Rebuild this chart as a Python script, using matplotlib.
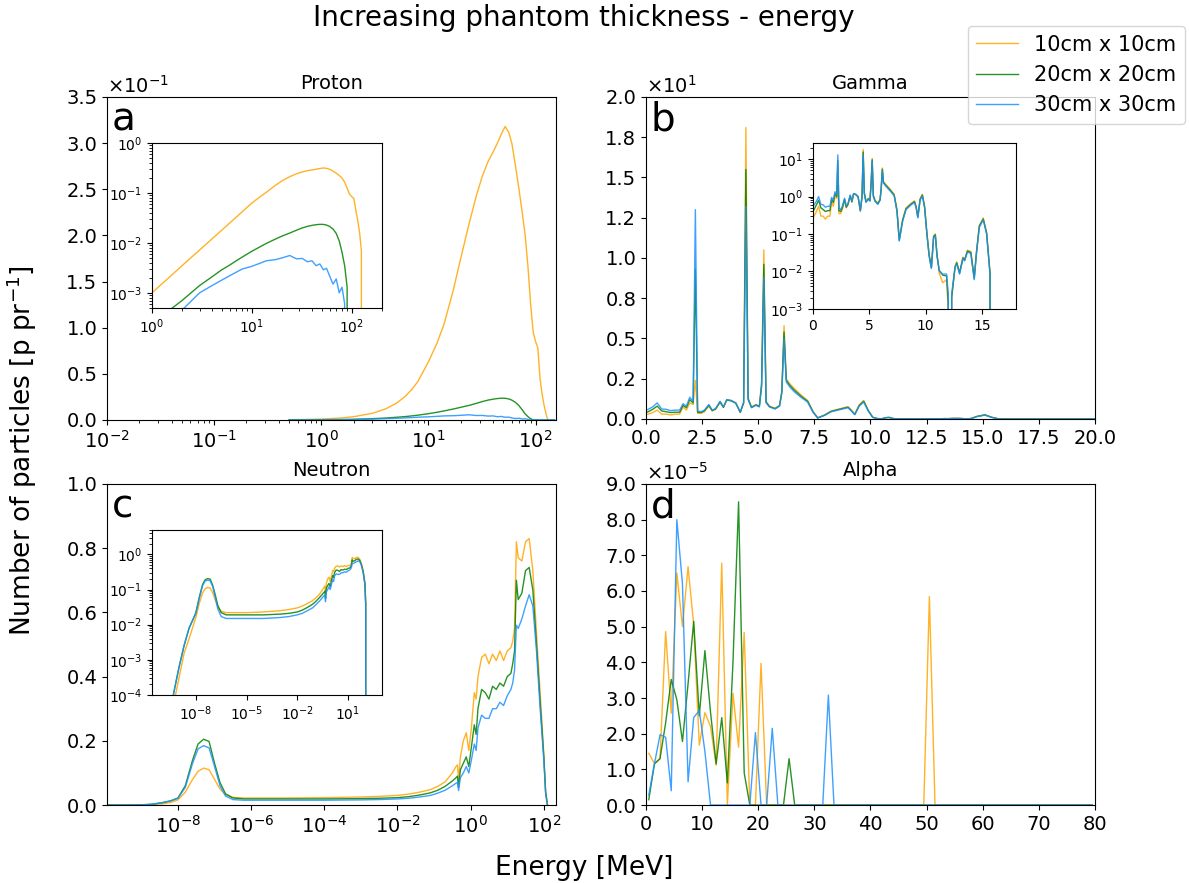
import numpy as np
import matplotlib
matplotlib.use("Agg")
import matplotlib.pyplot as plt
from matplotlib.ticker import ScalarFormatter, LogLocator, MultipleLocator, NullLocator

# ---------------- data ----------------
labels = ["10cm x 10cm", "20cm x 20cm", "30cm x 30cm"]
colors = ["orange", "green", "dodgerblue"]

# Proton (energy in MeV)
proton_E = [0.5, 0.7, 1, 1.5, 2, 3, 4, 5, 6, 7, 8, 10, 12, 14, 17, 20, 24, 28, 32, 36, 40,
            44, 48, 52, 56, 60, 65, 70, 75, 80, 85, 90, 95, 100, 105, 110, 115, 120, 125,
            130, 140, 150]
proton_10 = [2.9e-4, 5.3e-4, 1.0e-3, 2.07e-3, 3.5e-3, 7.2e-3, 0.0121, 0.018, 0.025, 0.033,
             0.042, 0.063, 0.083, 0.104, 0.14, 0.175, 0.213, 0.243, 0.265, 0.28, 0.29, 0.30,
             0.31, 0.318, 0.312, 0.30, 0.275, 0.25, 0.225, 0.20, 0.165, 0.125, 0.095, 0.085,
             0.078, 0.045, 0.028, 0.016, 0.007, 0.0, 0.0, 0.0]
proton_20 = [5e-5, 1e-4, 2e-4, 4.5e-4, 7e-4, 1.4e-3, 2.1e-3, 2.9e-3, 3.6e-3, 4.4e-3, 5.2e-3,
             6.8e-3, 8.3e-3, 9.8e-3, 0.0118, 0.0137, 0.0158, 0.018, 0.020, 0.0215, 0.0225,
             0.0232, 0.0236, 0.0235, 0.0228, 0.0215, 0.019, 0.0155, 0.011, 0.0065, 0.0035,
             0.0013, 0.0, 0.0, 0.0, 0.0, 0.0, 0.0, 0.0, 0.0, 0.0, 0.0]
proton_30 = [2e-5, 5e-5, 1.2e-4, 2.8e-4, 4.5e-4, 1.0e-3, 1.4e-3, 1.8e-3, 2.2e-3, 2.6e-3,
             3.0e-3, 3.4e-3, 3.9e-3, 4.4e-3, 4.6e-3, 5.0e-3, 5.6e-3, 4.8e-3, 4.9e-3, 4.2e-3,
             4.4e-3, 3.5e-3, 3.8e-3, 2.9e-3, 3.1e-3, 2.2e-3, 1.5e-3, 1.9e-3, 1.0e-3, 1.3e-3,
             6e-4, 0.0, 0.0, 0.0, 0.0, 0.0, 0.0, 0.0, 0.0, 0.0, 0.0, 0.0]

# Gamma (energy in MeV)
gamma_E = [0.0, 0.1, 0.3, 0.5, 0.7, 0.9, 1.1, 1.3, 1.5, 1.65, 1.8, 1.95, 2.1, 2.2, 2.3, 2.45,
           2.6, 2.8, 2.95, 3.1, 3.3, 3.45, 3.6, 3.8, 4.0, 4.2, 4.35, 4.45, 4.55, 4.7, 4.9,
           5.05, 5.15, 5.25, 5.35, 5.5, 5.75, 5.95, 6.05, 6.15, 6.25, 6.4, 6.6, 6.9, 7.2,
           7.45, 7.65, 7.95, 8.25, 8.7, 9.0, 9.15, 9.3, 9.5, 9.7, 9.9, 10.1, 10.3, 10.5,
           10.7, 10.85, 11.0, 11.2, 11.5, 11.85, 12.0, 12.1, 12.3, 12.6, 12.75, 13.0, 13.3,
           13.45, 13.7, 14.0, 14.3, 14.5, 14.75, 15.1, 15.4, 15.7, 15.9, 16.0, 17.0, 18.0,
           19.0, 20.0]
gamma_10 = [0.28, 0.3, 0.4, 0.55, 0.3, 0.3, 0.25, 0.3, 0.3, 0.75, 0.55, 1.0, 0.9, 2.4, 0.35,
            0.35, 0.45, 0.8, 0.5, 0.6, 1.05, 0.72, 1.2, 1.15, 1.0, 0.4, 1.05, 18.1, 1.3, 0.75,
            0.9, 0.8, 2.3, 10.5, 1.1, 0.8, 0.67, 0.85, 1.75, 5.8, 2.5, 2.2, 1.9, 1.5, 1.15,
            0.45, 0.072, 0.25, 0.5, 0.66, 0.77, 0.55, 0.3, 0.88, 1.15, 0.55, 0.11, 0.028,
            0.013, 0.09, 0.1, 0.028, 0.009, 0.005, 0.006, 0.0008, 0.0, 0.002, 0.014, 0.018,
            0.0095, 0.024, 0.021, 0.037, 0.034, 0.007, 0.034, 0.17, 0.27, 0.11, 0.0095, 0.0,
            0.0, 0.0, 0.0, 0.0, 0.0]
gamma_20 = [0.4, 0.45, 0.6, 0.8, 0.5, 0.45, 0.4, 0.42, 0.42, 0.85, 0.7, 1.2, 1.0, 9.3, 0.42,
            0.4, 0.5, 0.85, 0.52, 0.62, 1.05, 0.72, 1.18, 1.12, 0.98, 0.42, 1.0, 15.5, 1.25,
            0.72, 0.87, 0.78, 2.1, 9.6, 1.05, 0.77, 0.64, 0.82, 1.65, 5.4, 2.4, 2.1, 1.8, 1.42,
            1.1, 0.42, 0.068, 0.23, 0.47, 0.63, 0.73, 0.52, 0.28, 0.84, 1.1, 0.52, 0.105,
            0.027, 0.0125, 0.085, 0.095, 0.027, 0.0105, 0.008, 0.0075, 0.0015, 0.0, 0.002,
            0.013, 0.017, 0.009, 0.023, 0.02, 0.035, 0.032, 0.0065, 0.032, 0.16, 0.25, 0.105,
            0.009, 0.0, 0.0, 0.0, 0.0, 0.0, 0.0]
gamma_30 = [0.55, 0.6, 0.75, 1.0, 0.62, 0.6, 0.52, 0.55, 0.55, 0.95, 0.8, 1.35, 1.1, 13.0, 0.5,
            0.45, 0.55, 0.9, 0.55, 0.65, 1.1, 0.75, 1.2, 1.15, 1.0, 0.42, 1.0, 13.2, 1.2, 0.7,
            0.85, 0.75, 2.0, 8.8, 1.0, 0.75, 0.62, 0.8, 1.6, 5.0, 2.3, 2.0, 1.7, 1.35, 1.05,
            0.4, 0.065, 0.22, 0.45, 0.6, 0.7, 0.5, 0.27, 0.8, 1.05, 0.5, 0.1, 0.026, 0.012,
            0.08, 0.09, 0.026, 0.0105, 0.0085, 0.0085, 0.0025, 0.0, 0.0025, 0.013, 0.016,
            0.0085, 0.022, 0.019, 0.033, 0.03, 0.006, 0.03, 0.15, 0.24, 0.1, 0.0085, 0.0,
            0.0, 0.0, 0.0, 0.0, 0.0]

# Neutron (log10 of energy in MeV)
neutron_logE = [-10.0, -9.6, -9.3, -9.0, -8.7, -8.4, -8.2, -8.0, -7.8, -7.6, -7.45, -7.3,
                -7.15, -7.0, -6.85, -6.7, -6.5, -6.2, -6.0, -5.0, -4.0, -3.0, -2.5, -2.0,
                -1.7, -1.4, -1.1, -0.9, -0.7, -0.5, -0.4, -0.36, -0.33, -0.28, -0.2, -0.12,
                -0.05, 0.02, 0.1, 0.15, 0.2, 0.3, 0.4, 0.5, 0.6, 0.7, 0.8, 0.9, 1.0, 1.1,
                1.15, 1.2, 1.25, 1.3, 1.4, 1.5, 1.6, 1.7, 1.8, 1.9, 2.0, 2.05, 2.1]
neutron_10 = [1e-6, 1e-5, 6e-5, 3e-4, 1.5e-3, 4e-3, 8e-3, 0.016, 0.04, 0.08, 0.105, 0.115,
              0.11, 0.08, 0.05, 0.032, 0.024, 0.022, 0.022, 0.022, 0.023, 0.025, 0.027, 0.03,
              0.034, 0.04, 0.048, 0.058, 0.072, 0.10, 0.12, 0.125, 0.078, 0.15, 0.20, 0.225,
              0.17, 0.24, 0.35, 0.33, 0.40, 0.46, 0.47, 0.44, 0.47, 0.45, 0.48, 0.45, 0.48,
              0.49, 0.51, 0.55, 0.82, 0.77, 0.76, 0.82, 0.83, 0.73, 0.535, 0.35, 0.16, 0.04,
              0.0]
neutron_20 = [1.5e-6, 2e-5, 1.2e-4, 6e-4, 2.5e-3, 8e-3, 0.013, 0.022, 0.06, 0.14, 0.19, 0.205,
              0.198, 0.13, 0.07, 0.035, 0.022, 0.019, 0.019, 0.019, 0.019, 0.02, 0.021, 0.023,
              0.026, 0.031, 0.038, 0.046, 0.058, 0.075, 0.085, 0.09, 0.055, 0.11, 0.13, 0.15,
              0.12, 0.18, 0.25, 0.22, 0.30, 0.36, 0.35, 0.33, 0.37, 0.36, 0.38, 0.37, 0.40,
              0.41, 0.44, 0.48, 0.70, 0.64, 0.66, 0.73, 0.74, 0.67, 0.50, 0.32, 0.15, 0.04,
              0.0]
neutron_30 = [1.5e-6, 2e-5, 1.2e-4, 6e-4, 2.5e-3, 8e-3, 0.013, 0.021, 0.055, 0.13, 0.175,
              0.185, 0.178, 0.12, 0.06, 0.028, 0.017, 0.015, 0.015, 0.015, 0.015, 0.016, 0.017,
              0.019, 0.021, 0.025, 0.03, 0.037, 0.046, 0.06, 0.068, 0.07, 0.045, 0.085, 0.10,
              0.12, 0.10, 0.14, 0.19, 0.17, 0.24, 0.28, 0.27, 0.27, 0.30, 0.30, 0.32, 0.31,
              0.34, 0.36, 0.38, 0.42, 0.56, 0.55, 0.58, 0.62, 0.655, 0.62, 0.48, 0.30, 0.14,
              0.035, 0.0]

# Alpha (1 MeV bins, values in units of 1e-5)
alpha_E = [0.5, 1.5, 2.5, 3.5, 4.5, 5.5, 6.5, 7.5, 8.5, 9.5, 10.5, 11.5, 12.5, 13.5, 14.5,
           15.5, 16.5, 17.5, 18.5, 19.5, 20.5, 21.5, 22.5, 23.5, 24.5, 25.5, 26.5, 27.5,
           28.5, 29.5, 30.5, 31.5, 32.5, 33.5, 34.5, 35.5, 36.5, 37.5, 38.5, 39.5, 40.5,
           41.5, 42.5, 43.5, 44.5, 45.5, 46.5, 47.5, 48.5, 49.5, 50.5, 51.5, 52.5, 53.5,
           54.5, 55.5, 56.5, 57.5, 58.5, 59.5, 60.5, 61.5, 62.5, 63.5, 64.5, 65.5, 66.5,
           67.5, 68.5, 69.5, 70.5, 71.5, 72.5, 73.5, 74.5, 75.5, 76.5, 77.5, 78.5, 79.5]
alpha_10 = [1.45, 1.17, 1.3, 4.86, 2.57, 6.5, 5.0, 6.68, 5.05, 1.68, 2.59, 2.2, 1.12, 6.78,
            0.0, 3.13, 1.62, 4.84, 0.0, 0.0, 3.97, 0.0, 0.0, 0.0, 0.0, 0.0, 0.0, 0.0, 0.0,
            0.0, 0.0, 0.0, 0.0, 0.0, 0.0, 0.0, 0.0, 0.0, 0.0, 0.0, 0.0, 0.0, 0.0, 0.0, 0.0,
            0.0, 0.0, 0.0, 0.0, 0.0, 5.84, 0.0, 0.0, 0.0, 0.0, 0.0, 0.0, 0.0, 0.0, 0.0, 0.0,
            0.0, 0.0, 0.0, 0.0, 0.0, 0.0, 0.0, 0.0, 0.0, 0.0, 0.0, 0.0, 0.0, 0.0, 0.0, 0.0,
            0.0, 0.0, 0.0]
alpha_20 = [0.15, 1.15, 1.3, 2.3, 3.52, 2.95, 1.78, 3.4, 5.15, 2.5, 4.33, 2.6, 1.15, 2.45,
            0.62, 4.0, 8.5, 0.9, 0.0, 0.0, 0.0, 0.0, 0.0, 0.0, 0.0, 1.3, 0.0, 0.0, 0.0, 0.0,
            0.0, 0.0, 0.0, 0.0, 0.0, 0.0, 0.0, 0.0, 0.0, 0.0, 0.0, 0.0, 0.0, 0.0, 0.0, 0.0,
            0.0, 0.0, 0.0, 0.0, 0.0, 0.0, 0.0, 0.0, 0.0, 0.0, 0.0, 0.0, 0.0, 0.0, 0.0, 0.0,
            0.0, 0.0, 0.0, 0.0, 0.0, 0.0, 0.0, 0.0, 0.0, 0.0, 0.0, 0.0, 0.0, 0.0, 0.0, 0.0,
            0.0, 0.0]
alpha_30 = [0.28, 1.15, 1.97, 1.9, 0.4, 8.0, 6.2, 0.65, 2.45, 2.65, 1.5, 0.0, 0.0, 0.0, 0.0,
            0.0, 0.0, 0.0, 0.0, 2.03, 0.0, 0.0, 2.15, 0.0, 0.0, 0.0, 0.0, 0.0, 0.0, 0.0, 0.0,
            0.0, 3.08, 0.0, 0.0, 0.0, 0.0, 0.0, 0.0, 0.0, 0.0, 0.0, 0.0, 0.0, 0.0, 0.0, 0.0,
            0.0, 0.0, 0.0, 0.0, 0.0, 0.0, 0.0, 0.0, 0.0, 0.0, 0.0, 0.0, 0.0, 0.0, 0.0, 0.0,
            0.0, 0.0, 0.0, 0.0, 0.0, 0.0, 0.0, 0.0, 0.0, 0.0, 0.0, 0.0, 0.0, 0.0, 0.0, 0.0,
            0.0]
alpha_unit = 1e-5

# ---------------- plotting ----------------
class OneDecimal(ScalarFormatter):
    def _set_format(self):
        self.format = '%1.1f'

def sci_axis(ax, step, top):
    fmt = OneDecimal(useMathText=True)
    fmt.set_powerlimits((0, 0))
    ax.yaxis.set_major_formatter(fmt)
    ax.yaxis.set_major_locator(MultipleLocator(step))
    ax.set_ylim(0, top)
    ax.yaxis.get_offset_text().set_fontsize(14)

LW = 1.0
ALPHA = 0.85
TICK = 14
INSET_TICK = 10

fig = plt.figure(figsize=(11.89, 8.83), dpi=100)
ax_a = fig.add_axes([0.090, 0.5244, 0.3776, 0.3658])
ax_b = fig.add_axes([0.5433, 0.5255, 0.3776, 0.3647])
ax_c = fig.add_axes([0.090, 0.0883, 0.3776, 0.3636])
ax_d = fig.add_axes([0.5433, 0.0883, 0.3776, 0.3636])

def draw(ax, x, ys):
    hs = []
    for y, c, lab in zip(ys, colors, labels):
        h, = ax.plot(x, y, color=c, lw=LW, alpha=ALPHA, label=lab)
        hs.append(h)
    return hs

# --- a: proton
handles = draw(ax_a, proton_E, [proton_10, proton_20, proton_30])
ax_a.set_xscale('log')
ax_a.set_xlim(1e-2, 155)
sci_axis(ax_a, 0.05, 0.35)
ax_a.set_title("Proton", fontsize=14)
ins_a = ax_a.inset_axes([0.10, 0.347, 0.512, 0.51])
draw(ins_a, proton_E, [proton_10, proton_20, proton_30])
ins_a.set_xscale('log'); ins_a.set_yscale('log')
ins_a.set_xlim(1, 200); ins_a.set_ylim(5e-4, 1)

# --- b: gamma
draw(ax_b, gamma_E, [gamma_10, gamma_20, gamma_30])
ax_b.set_xlim(0, 20)
ax_b.xaxis.set_major_locator(MultipleLocator(2.5))
sci_axis(ax_b, 2.5, 20)
ax_b.set_title("Gamma", fontsize=14)
ins_b = ax_b.inset_axes([0.372, 0.342, 0.452, 0.515])
draw(ins_b, gamma_E, [gamma_10, gamma_20, gamma_30])
ins_b.set_yscale('log')
ins_b.set_xlim(0, 18); ins_b.set_ylim(1e-3, 27)
ins_b.xaxis.set_major_locator(MultipleLocator(5))

# --- c: neutron
nE = [10.0 ** v for v in neutron_logE]
draw(ax_c, nE, [neutron_10, neutron_20, neutron_30])
ax_c.set_xscale('log')
ax_c.set_xlim(1.15e-10, 215)
ax_c.xaxis.set_major_locator(LogLocator(base=10, subs=(1.0,), numticks=7))
ax_c.xaxis.set_minor_locator(NullLocator())
ax_c.set_ylim(0, 1)
ax_c.yaxis.set_major_locator(MultipleLocator(0.2))
ax_c.set_title("Neutron", fontsize=14)
ins_c = ax_c.inset_axes([0.10, 0.343, 0.512, 0.514])
draw(ins_c, nE, [neutron_10, neutron_20, neutron_30])
ins_c.set_xscale('log'); ins_c.set_yscale('log')
ins_c.set_xlim(10 ** -10.6, 10 ** 3.0); ins_c.set_ylim(1e-4, 5)
ins_c.xaxis.set_major_locator(LogLocator(base=10, subs=(1.0,), numticks=6))

# --- d: alpha
draw(ax_d, alpha_E, [[v * alpha_unit for v in s] for s in (alpha_10, alpha_20, alpha_30)])
ax_d.set_xlim(0, 80)
ax_d.xaxis.set_major_locator(MultipleLocator(10))
sci_axis(ax_d, 1e-5, 9e-5)
ax_d.set_title("Alpha", fontsize=14)

for ax in (ax_a, ax_b, ax_c, ax_d):
    ax.tick_params(labelsize=TICK)
for ins in (ins_a, ins_b, ins_c):
    ins.tick_params(labelsize=INSET_TICK)

for ax, letter in zip((ax_a, ax_b, ax_c, ax_d), "abcd"):
    ax.text(0.01, 0.99, letter, transform=ax.transAxes, fontsize=28,
            ha='left', va='top')

fig.text(0.491, 0.98, "Increasing phantom thickness - energy", ha='center', va='center',
         fontsize=20)
fig.text(0.491, 0.017, "Energy [MeV]", ha='center', va='center', fontsize=19)
fig.text(0.0185, 0.49, r"Number of particles [p pr$^{-1}$]", ha='center', va='center',
         rotation=90, fontsize=19)

fig.legend(handles=handles, labels=labels, loc='upper right', bbox_to_anchor=(1.0, 0.975),
           fontsize=15, borderaxespad=0.2)

fig.savefig("out.png", dpi=100)
